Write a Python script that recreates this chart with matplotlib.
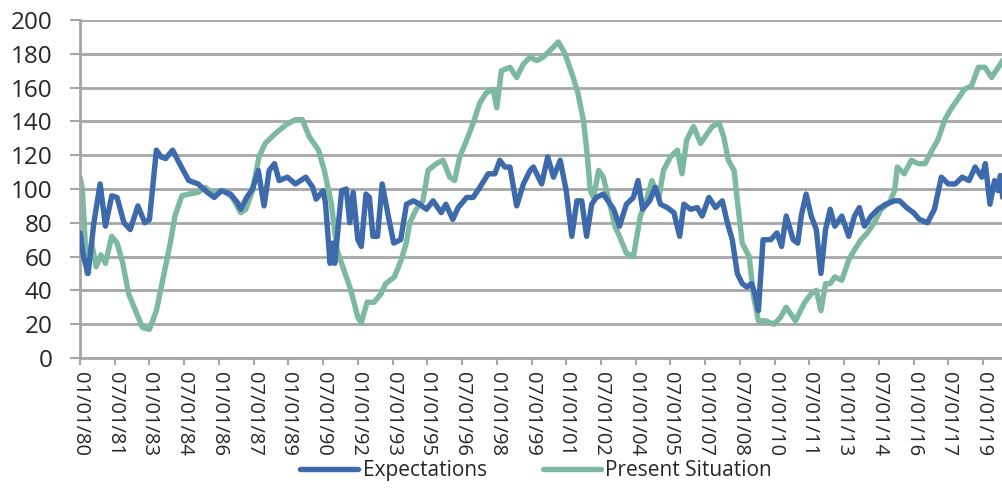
import matplotlib.pyplot as plt

# Expectations index (decimal year, value)
exp_years = [1980.0, 1980.15, 1980.35, 1980.6, 1980.87, 1981.1, 1981.37, 1981.6, 1981.9, 1982.17,
             1982.5, 1982.8, 1983.0, 1983.3, 1983.5, 1983.7, 1984.0, 1984.3, 1984.7, 1985.1,
             1985.5, 1985.8, 1986.1, 1986.5, 1986.8, 1986.94, 1987.2, 1987.45, 1987.7, 1987.95,
             1988.17, 1988.4, 1988.6, 1988.96, 1989.3, 1989.75, 1990.05, 1990.2, 1990.5, 1990.6,
             1990.8, 1990.9, 1991.0, 1991.3, 1991.5, 1991.65, 1991.8, 1992.0, 1992.15, 1992.35,
             1992.5, 1992.65, 1992.85, 1993.05, 1993.3, 1993.55, 1993.85, 1994.1, 1994.4, 1994.67,
             1994.96, 1995.25, 1995.6, 1995.8, 1996.1, 1996.33, 1996.7, 1996.98, 1997.27, 1997.63,
             1997.92, 1998.13, 1998.35, 1998.57, 1998.86, 1999.15, 1999.44, 1999.58, 1999.94, 2000.2,
             2000.45, 2000.74, 2001.0, 2001.24, 2001.46, 2001.67, 2001.88, 2002.1, 2002.3, 2002.6,
             2003.05, 2003.3, 2003.6, 2003.9, 2004.1, 2004.3, 2004.6, 2004.85, 2005.07, 2005.36,
             2005.65, 2005.9, 2006.08, 2006.37, 2006.66, 2006.87, 2007.16, 2007.45, 2007.74, 2007.96,
             2008.17, 2008.39, 2008.6, 2008.8, 2009.0, 2009.15, 2009.3, 2009.5, 2009.83, 2010.1,
             2010.3, 2010.5, 2010.8, 2011.0, 2011.15, 2011.36, 2011.58, 2011.8, 2012.0, 2012.2,
             2012.4, 2012.6, 2012.9, 2013.2, 2013.45, 2013.66, 2013.88, 2014.17, 2014.46, 2014.8,
             2015.18, 2015.4, 2015.7, 2016.0, 2016.25, 2016.6, 2016.9, 2017.2, 2017.5, 2017.8,
             2018.1, 2018.4, 2018.66, 2018.95, 2019.1, 2019.3, 2019.5, 2019.65, 2019.75, 2019.85]
exp_vals = [74, 60, 50, 80, 103, 78, 96, 95, 80, 76,
            90, 80, 82, 123, 119, 118, 123, 115, 105, 103,
            98, 95, 99, 97, 92, 88, 95, 100, 111, 90,
            111, 115, 105, 107, 103, 107, 101, 94, 99, 92,
            56, 68, 56, 99, 100, 80, 98, 70, 66, 97,
            95, 72, 72, 103, 85, 68, 70, 91, 93, 91,
            88, 93, 86, 91, 82, 89, 95, 95, 101, 109,
            109, 117, 113, 113, 90, 103, 111, 113, 103, 119,
            107, 117, 99, 72, 93, 93, 72, 91, 95, 97,
            88, 78, 91, 95, 105, 88, 93, 101, 91, 89,
            86, 72, 91, 88, 89, 84, 95, 89, 93, 80,
            70, 50, 44, 42, 44, 38, 28, 70, 70, 74,
            66, 84, 70, 68, 84, 97, 84, 76, 50, 76,
            88, 78, 84, 72, 84, 89, 78, 84, 88, 91,
            93, 93, 89, 86, 82, 80, 88, 107, 103, 103,
            107, 105, 113, 107, 115, 91, 105, 99, 108, 95]

# Present Situation index (decimal year, value)
pres_years = [1980.0, 1980.1, 1980.3, 1980.5, 1980.7, 1980.9, 1981.1, 1981.37, 1981.6, 1981.85,
              1982.1, 1982.4, 1982.7, 1983.0, 1983.3, 1983.6, 1983.9, 1984.1, 1984.4, 1984.7,
              1985.1, 1985.4, 1985.8, 1986.2, 1986.58, 1986.94, 1987.16, 1987.45, 1987.73, 1988.0,
              1988.45, 1988.9, 1989.3, 1989.6, 1989.9, 1990.3, 1990.55, 1990.85, 1991.1, 1991.4,
              1991.7, 1992.0, 1992.15, 1992.4, 1992.7, 1993.0, 1993.2, 1993.58, 1993.87, 1994.09,
              1994.24, 1994.52, 1994.81, 1995.03, 1995.39, 1995.68, 1995.97, 1996.18, 1996.4, 1996.7,
              1996.98, 1997.27, 1997.55, 1997.85, 1998.0, 1998.2, 1998.57, 1998.86, 1999.15, 1999.44,
              1999.73, 2000.0, 2000.3, 2000.66, 2000.95, 2001.3, 2001.5, 2001.75, 2001.9, 2002.04,
              2002.18, 2002.4, 2002.6, 2002.9, 2003.1, 2003.3, 2003.6, 2003.9, 2004.2, 2004.5,
              2004.7, 2005.0, 2005.2, 2005.5, 2005.8, 2006.0, 2006.2, 2006.5, 2006.8, 2007.0,
              2007.3, 2007.6, 2007.8, 2008.0, 2008.25, 2008.4, 2008.6, 2008.9, 2009.1, 2009.3,
              2009.6, 2009.97, 2010.25, 2010.5, 2010.9, 2011.3, 2011.58, 2011.8, 2012.0, 2012.2,
              2012.4, 2012.6, 2012.9, 2013.2, 2013.45, 2013.73, 2014.0, 2014.3, 2014.6, 2014.96,
              2015.18, 2015.3, 2015.6, 2015.9, 2016.2, 2016.5, 2016.8, 2017.05, 2017.35, 2017.6,
              2017.9, 2018.2, 2018.5, 2018.8, 2019.08, 2019.37, 2019.66, 2019.85]
pres_vals = [107, 100, 50, 68, 54, 61, 56, 72, 68, 56,
             38, 28, 18, 17, 28, 48, 68, 84, 96, 97,
             98, 101, 97, 99, 95, 86, 88, 99, 119, 127,
             133, 138, 141, 141, 131, 123, 111, 92, 64, 52,
             40, 24, 21, 33, 33, 38, 44, 48, 58, 68,
             80, 88, 93, 111, 115, 117, 107, 105, 119, 129,
             139, 151, 157, 159, 148, 170, 172, 166, 174, 178,
             176, 178, 182, 187, 180, 166, 157, 140, 121, 99,
             95, 111, 107, 90, 78, 72, 62, 60, 84, 95,
             105, 95, 111, 119, 123, 109, 129, 137, 127, 131,
             137, 139, 131, 117, 111, 92, 68, 60, 36, 22,
             22, 20, 24, 30, 22, 33, 38, 40, 28, 44,
             44, 48, 46, 58, 64, 70, 74, 80, 88, 92,
             99, 113, 109, 117, 115, 115, 123, 129, 141, 147,
             153, 159, 161, 172, 172, 166, 172, 176]

# date axis ticks every 18 months
tick_years = [1980 + 1.5 * k for k in range(27)]
tick_labels = []
for t in tick_years:
    month = "01" if t == int(t) else "07"
    tick_labels.append(f"{month}/01/{int(t) % 100:02d}")

blue = "#3d6aab"
green = "#7cb9a0"
grid_gray = "#a6a6a6"
text_col = "#262626"

plt.rcParams['font.family'] = ['Open Sans', 'DejaVu Sans']

fig = plt.figure(figsize=(10.02, 4.88), dpi=100)
ax = fig.add_axes([80 / 1002, 1 - 358 / 488, 1 - 80 / 1002, 338 / 488])

ax.plot(exp_years, exp_vals, color=blue, lw=3.9, solid_joinstyle='round',
        solid_capstyle='round', label="Expectations", zorder=3)
ax.plot(pres_years, pres_vals, color=green, lw=3.9, solid_joinstyle='round',
        solid_capstyle='round', label="Present Situation", zorder=2)

ax.set_xlim(1980.0, 2019.82)
ax.set_ylim(0, 200)
ax.set_yticks(range(0, 201, 20))
ax.set_xticks(tick_years)
ax.set_xticklabels(tick_labels, rotation=270, fontsize=14.5, color=text_col)
ax.tick_params(axis='y', labelsize=17.5, length=7, width=1.5, color=grid_gray,
               pad=13, labelcolor=text_col)
ax.tick_params(axis='x', length=5, width=1.5, color=grid_gray, pad=5)

ax.grid(axis='y', color=grid_gray, lw=2)
ax.set_axisbelow(True)
for side in ['top', 'right']:
    ax.spines[side].set_visible(False)
for side in ['left', 'bottom']:
    ax.spines[side].set_color(grid_gray)
    ax.spines[side].set_linewidth(2)

fig.legend(loc='lower center', bbox_to_anchor=(0.535, -0.025), ncol=2, frameon=False,
           fontsize=15, handlelength=2.8, handletextpad=0.2, columnspacing=2.7,
           labelcolor=text_col)

fig.savefig("out.png", dpi=100)
